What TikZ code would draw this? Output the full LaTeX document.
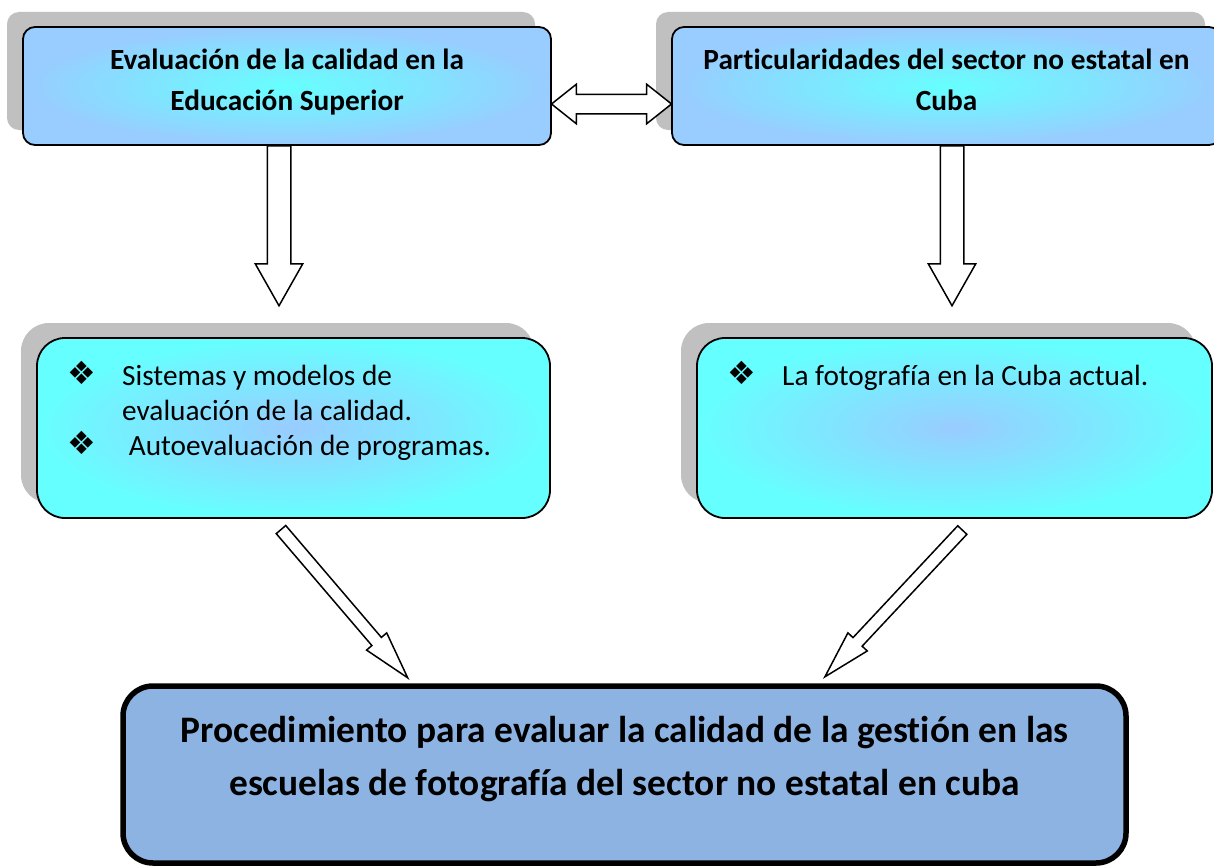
\documentclass[tikz,border=0pt]{standalone}
\usepackage{fontspec}
\setmainfont{Carlito}[Ligatures=NoCommon]
\newfontfamily\dingfont{DejaVu Sans}
\usepackage{tikz}
\usepackage{xcolor}
\usetikzlibrary{calc}
\usetikzlibrary{shapes.arrows,shadows}
\definecolor{skyc}{HTML}{99CCFF}
\definecolor{aquac}{HTML}{66FFFF}
\definecolor{procc}{HTML}{8DB3E2}
\definecolor{shadowc}{HTML}{C0C0C0}
\newcommand{\bulletsym}{\raisebox{1pt}{\dingfont\fontsize{32}{32}\selectfont ❖}}
\tikzstyle{boxshadow} = [
    drop shadow={shadow xshift=-16pt, shadow yshift=15pt, fill=shadowc, opacity=1}
    ]
\tikzstyle{topbox} = [
    draw=black,
    line width=1.8pt,
    rectangle,
    rounded corners=12pt,
    inner color=aquac,
    outer color=skyc,
    minimum width=528pt,
    minimum height=118pt,
    outer sep=0pt,
    boxshadow
    ]
\tikzstyle{itembox} = [
    draw=black,
    line width=1.8pt,
    rectangle,
    rounded corners=28pt,
    inner color=skyc,
    outer color=aquac,
    minimum height=180pt,
    outer sep=0pt,
    boxshadow
    ]
\tikzstyle{procbox} = [
    draw=black,
    line width=5.5pt,
    rectangle,
    rounded corners=30pt,
    fill=procc,
    minimum width=1003pt,
    minimum height=177pt,
    outer sep=0pt
    ]
\tikzstyle{toptext} = [font=\bfseries\fontsize{29.3}{41}\selectfont, align=center, inner sep=0pt, anchor=north]
\tikzstyle{itemtext} = [font=\fontsize{29.3}{35}\selectfont, align=left, inner sep=0pt, anchor=north west]
\tikzstyle{proctext} = [font=\bfseries\fontsize{37.4}{53}\selectfont, align=center, inner sep=0pt, anchor=north]
\tikzstyle{blockarrow} = [
    single arrow,
    draw=black,
    fill=white,
    line width=1.5pt,
    inner sep=0pt,
    single arrow head indent=0pt,
    sloped,
    allow upside down,
    anchor=tail
    ]
\tikzstyle{downarrow} = [blockarrow, inner ysep=11pt, minimum width=46pt, single arrow head extend=12pt, single arrow tip angle=59, minimum height=160pt]
\tikzstyle{slimarrow} = [blockarrow, inner ysep=5.5pt, minimum width=26pt, single arrow head extend=7pt, single arrow tip angle=31]
\tikzstyle{bothwaysarrow} = [
    double arrow,
    draw=black,
    fill=white,
    line width=1.5pt,
    inner xsep=0pt,
    inner ysep=9pt,
    minimum width=38pt,
    double arrow head extend=10pt,
    double arrow tip angle=77,
    minimum height=120pt,
    sloped
    ]
\begin{document}
\begin{tikzpicture}[x=1pt, y=-1pt]
\useasboundingbox (0,0) rectangle (1214,867);

% top row
\node[topbox] (ev) at (287,86) {};
\node[topbox, minimum width=549pt] (part) at (946.5,86) {};
\node[toptext] (evtxt) at ($(ev.north)+(0,14)$) {\strut Evaluación de la calidad en la\\Educación Superior};
\node[toptext] (parttxt) at ($(part.north)+(0,14)$) {\strut Particularidades del sector no estatal en\\Cuba};

% middle row
\node[itembox, minimum width=513pt] (sis) at (293.5,428) {};
\node[itembox, minimum width=515pt] (foto) at (954.5,428) {};
\node[itemtext] (sistxt) at ($(sis.north west)+(30,22.5)$) {%
    \strut\makebox[55pt][l]{\bulletsym}Sistemas y modelos de\\
    \hspace*{55pt}evaluación de la calidad.\\
    \makebox[55pt][l]{\bulletsym} Autoevaluación de programas.};
\node[itemtext] (fototxt) at ($(foto.north west)+(30,22.5)$) {%
    \strut\makebox[55pt][l]{\bulletsym}La fotografía en la Cuba actual.};

% bottom
\node[procbox] (proc) at (624.5,774.5) {};
\node[proctext] (proctxt) at ($(proc.north)+(0,19)$) {\strut Procedimiento para evaluar la calidad de la gestión en las\\escuelas de fotografía del sector no estatal en cuba};

% arrows
\coordinate (evfoot) at ($(ev.south)+(-8,0)$);
\coordinate (partfoot) at ($(part.south)+(5.5,0)$);
\path (evfoot) -- node[downarrow, pos=0] (evarrow) {} (evfoot |- sis.north);
\path (partfoot) -- node[downarrow, pos=0] (partarrow) {} (partfoot |- foto.north);
\path ($(ev.east)+(0,18)$) -- node[bothwaysarrow] (linkarrow) {} ($(part.west)+(0,18)$);
\path ($(sis.south)+(-13,11)$) -- node[slimarrow, pos=0, minimum height=195pt] (sisarrow) {} ($(proc.north)+(-217.5,-9)$);
\path ($(foto.south)+(8.3,11.5)$) -- node[slimarrow, pos=0, minimum height=201pt] (fotoarrow) {} ($(proc.north)+(200.5,-9.3)$);
\end{tikzpicture}
\end{document}
